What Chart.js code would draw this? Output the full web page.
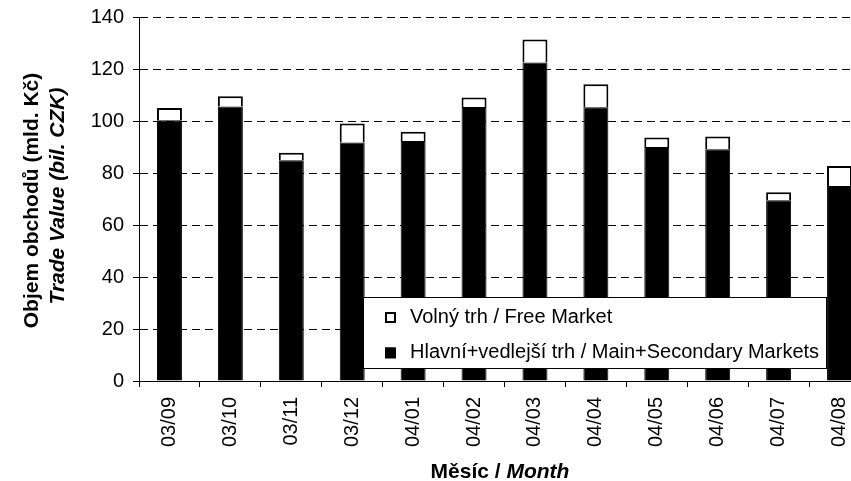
<!DOCTYPE html>
<html>
<head>
<meta charset="utf-8">
<script src="https://cdn.jsdelivr.net/npm/chart.js@4/dist/chart.umd.min.js"></script>
<style>
  html, body { margin: 0; padding: 0; overflow: hidden; background: #fff; }
  canvas { display: block; }
</style>
</head>
<body>
<canvas id="tradeChart" width="870" height="481"></canvas>
<script>
// Months
const months = ["03/09", "03/10", "03/11", "03/12", "04/01", "04/02", "04/03", "04/04", "04/05", "04/06", "04/07", "04/08"];
// Hlavní+vedlejší trh / Main+Secondary Markets (bil. CZK)
const mainMarkets = [100.3, 105.6, 84.9, 91.7, 92.3, 105.4, 122.5, 105.3, 90.0, 89.1, 69.5, 75.0];
// Volný trh / Free Market (bil. CZK)
const freeMarket = [4.7, 3.9, 2.9, 7.3, 3.6, 3.6, 8.8, 8.8, 3.7, 4.9, 3.1, 7.7];
const yTicks = [0, 20, 40, 60, 80, 100, 120, 140];

const FONT = '"Liberation Sans", Arial, sans-serif';
Chart.defaults.font.family = FONT;
Chart.defaults.color = "#000";

// axis titles + legend box, drawn by hand (mixed bold / italic)
const decorations = {
  id: "decorations",
  afterDraw(chart) {
    const ctx = chart.ctx;
    ctx.save();
    ctx.fillStyle = "#000";

    // y title, two lines rotated
    ctx.textAlign = "center";
    ctx.textBaseline = "middle";
    ctx.save();
    ctx.translate(32, 200.5);
    ctx.rotate(-Math.PI / 2);
    ctx.font = "bold 21px " + FONT;
    ctx.fillText("Objem obchodů (mld. Kč)", 0, 0);
    ctx.restore();
    ctx.save();
    ctx.translate(58, 196);
    ctx.rotate(-Math.PI / 2);
    ctx.font = "italic bold 21px " + FONT;
    ctx.fillText("Trade Value (bil. CZK)", 0, 0);
    ctx.restore();

    // x title
    ctx.textAlign = "left";
    ctx.textBaseline = "alphabetic";
    ctx.font = "bold 21px " + FONT;
    const part1 = "Měsíc / ";
    const w1 = ctx.measureText(part1).width;
    ctx.font = "italic bold 21px " + FONT;
    const part2 = "Month";
    const w2 = ctx.measureText(part2).width;
    let x0 = 500 - (w1 + w2) / 2;
    ctx.font = "bold 21px " + FONT;
    ctx.fillText(part1, x0, 478);
    ctx.font = "italic bold 21px " + FONT;
    ctx.fillText(part2, x0 + w1, 478);

    // legend
    ctx.fillStyle = "#fff";
    ctx.fillRect(363, 297, 464, 71);
    ctx.strokeStyle = "#000";
    ctx.lineWidth = 1;
    ctx.strokeRect(363.5, 297.5, 463, 71);

    const items = chart.data.datasets.slice().reverse();
    items.forEach((ds, i) => {
      const sy = 312 + i * 35.5;
      ctx.fillStyle = ds.backgroundColor;
      ctx.fillRect(385, sy, 10, 10);
      ctx.strokeStyle = "#000";
      ctx.lineWidth = 2;
      ctx.strokeRect(386, sy + 1, 9, 9);
      ctx.fillStyle = "#000";
      ctx.font = "20px " + FONT;
      ctx.fillText(ds.label, 410, 323 + i * 35);
    });
    ctx.restore();
  },
};

const ctx = document.getElementById("tradeChart").getContext("2d");
const tradeChart = new Chart(ctx, {
  type: "bar",
  data: {
    labels: months,
    datasets: [
      {
        label: "Hlavní+vedlejší trh / Main+Secondary Markets",
        data: mainMarkets,
        backgroundColor: "#000",
        borderColor: "#000",
        borderWidth: 1,
        categoryPercentage: 1,
        barPercentage: 0.41,
      },
      {
        label: "Volný trh / Free Market",
        data: freeMarket,
        backgroundColor: "#fff",
        borderColor: "#000",
        borderWidth: 2,
        categoryPercentage: 1,
        barPercentage: 0.41,
      },
    ],
  },
  options: {
    responsive: false,
    animation: false,
    events: [],
    layout: { padding: { top: 17, left: 0, right: 0, bottom: 0 } },
    plugins: {
      legend: { display: false },
      tooltip: { enabled: false },
    },
    scales: {
      x: {
        stacked: true,
        afterFit(scale) {
          scale.height = 100;
          scale.paddingLeft = 0;
          scale.paddingRight = 0;
        },
        grid: {
          display: true,
          drawOnChartArea: false,
          drawTicks: true,
          tickLength: 6,
          tickColor: "#000",
          color: "#000",
        },
        border: { display: true, color: "#000", width: 1 },
        ticks: {
          autoSkip: false,
          minRotation: 90,
          maxRotation: 90,
          padding: 10,
          color: "#000",
          font: { size: 20 },
        },
      },
      y: {
        stacked: true,
        min: 0,
        max: 140,
        afterFit(scale) {
          scale.width = 139;
          scale.paddingTop = 0;
          scale.paddingBottom = 0;
        },
        afterBuildTicks(scale) { scale.ticks = yTicks.map((v) => ({ value: v })); },
        grid: {
          color: "#000",
          lineWidth: 1,
          tickLength: 6,
          tickColor: "#000",
          tickBorderDash: [],
        },
        border: { display: true, color: "#000", width: 1, dash: [8, 5] },
        ticks: {
          padding: 9,
          color: "#000",
          font: { size: 20 },
        },
      },
    },
  },
  plugins: [decorations],
});
</script>
</body>
</html>
